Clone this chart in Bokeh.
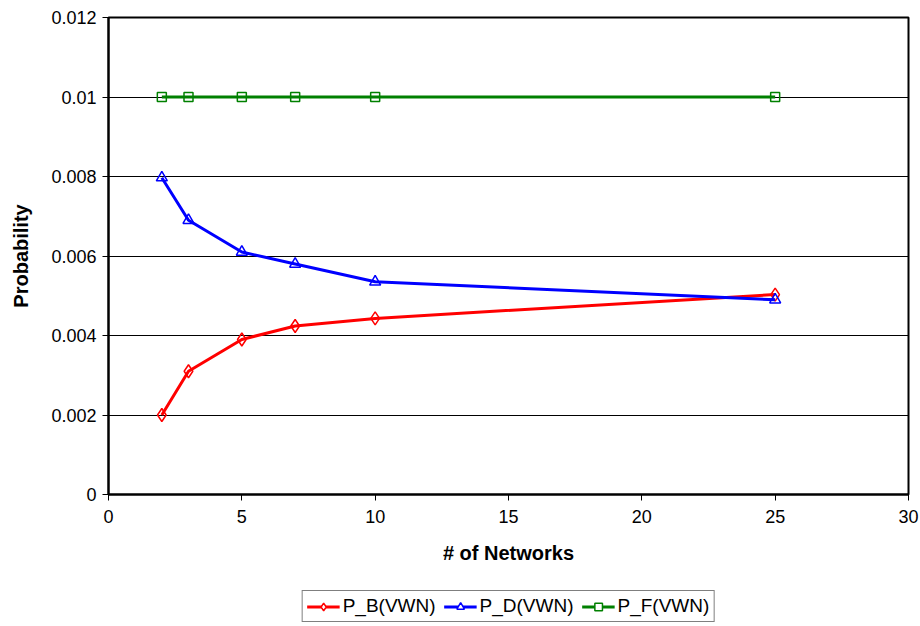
from bokeh.plotting import figure
from bokeh.layouts import column
from bokeh.models import FixedTicker, CustomJSTickFormatter, Legend, LegendItem
from bokeh.embed import file_html
from bokeh.resources import INLINE

# Number of networks
networks = [2, 3, 5, 7, 10, 25]

# Probabilities per series
p_b = [0.0020, 0.0031, 0.0039, 0.00424, 0.00443, 0.00503]
p_d = [0.00797, 0.0069, 0.0061, 0.0058, 0.00535, 0.0049]
p_f = [0.01, 0.01, 0.01, 0.01, 0.01, 0.01]

x_ticks = [0, 5, 10, 15, 20, 25, 30]
y_ticks = [0, 0.002, 0.004, 0.006, 0.008, 0.01, 0.012]

FONT = "Liberation Sans"

p = figure(width=920, height=580, x_range=(0, 30), y_range=(0, 0.012),
           output_backend="svg", toolbar_location=None,
           min_border_left=108, min_border_right=12, min_border_top=17,
           min_border_bottom=86)

p.outline_line_color = "black"
p.outline_line_width = 2
p.xgrid.visible = False
p.ygrid.ticker = FixedTicker(ticks=y_ticks)
p.ygrid.grid_line_color = "black"
p.ygrid.grid_line_width = 1

p.xaxis.ticker = FixedTicker(ticks=x_ticks)
p.yaxis.ticker = FixedTicker(ticks=y_ticks)
p.yaxis.formatter = CustomJSTickFormatter(code="return tick.toString();")
for ax in (p.xaxis, p.yaxis):
    ax.axis_line_color = "black"
    ax.axis_line_width = 2
    ax.major_tick_line_color = "black"
    ax.major_tick_out = 6
    ax.major_tick_in = 0
    ax.minor_tick_line_color = None
    ax.major_label_text_font = FONT
    ax.major_label_text_font_size = "18px"
    ax.major_label_text_color = "black"
    ax.axis_label_text_font = FONT
    ax.axis_label_text_font_style = "bold"
    ax.axis_label_text_font_size = "20px"
    ax.axis_label_text_color = "black"

p.xaxis.axis_label = "# of Networks"
p.yaxis.axis_label = "Probability"
p.xaxis.major_label_standoff = 9
p.xaxis.axis_label_standoff = 16
p.yaxis.major_label_standoff = 6
p.yaxis.axis_label_standoff = 16

series = [
    ("P_B(VWN)", p_b, "#ff0000", "diamond", 13),
    ("P_D(VWN)", p_d, "#0000ff", "triangle", 11),
    ("P_F(VWN)", p_f, "#008000", "square", 9),
]

# Legend strip below the chart; its proxy renderers sit outside its visible range
leg = figure(width=920, height=46, x_range=(1000, 1001), y_range=(1000, 1001),
             output_backend="svg", toolbar_location=None,
             min_border_left=98, min_border_right=0, min_border_top=6,
             min_border_bottom=0)
leg.axis.visible = False
leg.grid.visible = False
leg.outline_line_color = None

items = []
for label, ys, color, marker, size in series:
    p.line(networks, ys, line_color=color, line_width=3)
    p.scatter(networks, ys, marker=marker, size=size, line_color=color,
              line_width=1.5, fill_color=None)
    ln = leg.line(networks, ys, line_color=color, line_width=3)
    sc = leg.scatter(networks, ys, marker=marker, size=9, line_color=color,
                     line_width=1.5, fill_color="white")
    items.append(LegendItem(label=label, renderers=[ln, sc]))

legend = Legend(items=items, orientation="horizontal", location="center",
                label_text_font=FONT, label_text_font_size="19px",
                label_text_color="black", border_line_color="black",
                border_line_width=1, glyph_width=33, glyph_height=19,
                label_standoff=3, label_height=19,
                spacing=8, padding=4, margin=0)
leg.add_layout(legend, "center")

open("out.html", "w").write(file_html(column(p, leg), INLINE))
